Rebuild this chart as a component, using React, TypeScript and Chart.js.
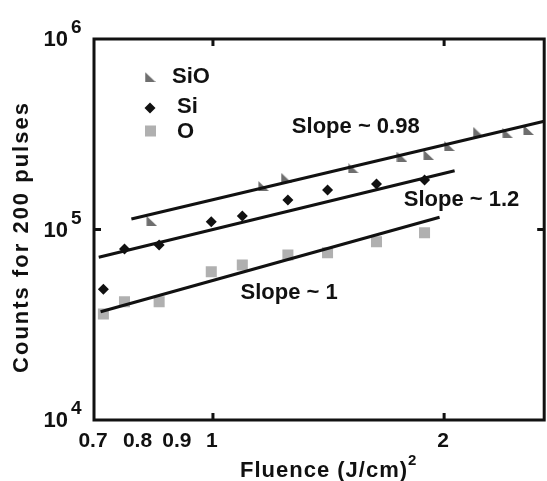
import React, { useEffect, useRef } from "react";
import { Chart, registerables } from "chart.js";

Chart.register(...registerables);

// ---- data ----
const sioX = [0.832, 1.163, 1.245, 1.523, 1.762, 1.909, 2.031, 2.214, 2.42, 2.575];
const sioY = [110800, 169100, 187000, 209600, 241000, 246000, 274400, 326100, 319900, 332900];

const siX = [0.72, 0.767, 0.851, 0.995, 1.092, 1.252, 1.41, 1.633, 1.886];
const siY = [48500, 79000, 82900, 109900, 117700, 142800, 161200, 173300, 181900];

const oX = [0.72, 0.767, 0.851, 0.995, 1.092, 1.252, 1.41, 1.633, 1.886];
const oY = [36000, 41800, 41800, 60000, 65100, 73500, 75600, 86300, 96200];

const fitSiOX = [0.783, 2.7];
const fitSiOY = [113500, 370000];
const fitSiX = [0.71, 2.064];
const fitSiY = [71450, 203600];
const fitOX = [0.714, 1.973];
const fitOY = [37000, 115900];

const xTickValues = [0.7, 0.8, 0.9, 1, 2];
const xTickLabels = ["0.7", "0.8", "0.9", "1", "2"];
const xTickMarks = [1, 2];
const yTickValues = [1e4, 1e5, 1e6];
const yTickExponents = ["4", "5", "6"];
const yTickMarks = [1e5];

const seriesNames = ["SiO", "Si", "O"];
const slopeLabels = ["Slope ~ 0.98", "Slope ~ 1.2", "Slope ~ 1"];
const slopeLabelX = [1.267, 1.772, 1.086];
const slopeLabelY = [321000, 132800, 43200];

const xTitle = "Fluence (J/cm)";
const xTitleSup = "2";
const yTitle = "Counts for 200 pulses";

const FONT = '"Liberation Sans", Arial, Helvetica, sans-serif';
const SIO_COLOR = "#6e6e6e";
const SI_COLOR = "#111111";
const O_COLOR = "#b0b0b0";

function makeTriangle(): HTMLCanvasElement {
  const c = document.createElement("canvas");
  c.width = 11;
  c.height = 10;
  const g = c.getContext("2d")!;
  g.fillStyle = SIO_COLOR;
  g.beginPath();
  g.moveTo(0.5, 0);
  g.lineTo(0.5, 10);
  g.lineTo(11, 10);
  g.closePath();
  g.fill();
  return c;
}

const toPts = (xs: number[], ys: number[]) => xs.map((x, i) => ({ x, y: ys[i] }));

export default function App() {
  const ref = useRef<HTMLCanvasElement | null>(null);

  useEffect(() => {
    document.body.style.margin = "0";
    const canvas = ref.current!;
    const tri = makeTriangle();

    const overlay = {
      id: "overlay",
      afterDraw(chart: any) {
        const ctx: CanvasRenderingContext2D = chart.ctx;
        const xs = chart.scales.x;
        const ys = chart.scales.y;
        const a = chart.chartArea;
        ctx.save();
        // frame
        ctx.strokeStyle = "#111";
        ctx.lineWidth = 3;
        ctx.beginPath();
        ctx.rect(a.left, a.top, a.right - a.left, a.bottom - a.top);
        ctx.stroke();
        // tick marks (inward)
        ctx.lineWidth = 3;
        ctx.beginPath();
        xTickMarks.forEach((v) => {
          const px = xs.getPixelForValue(v);
          ctx.moveTo(px, a.bottom);
          ctx.lineTo(px, a.bottom - 7);
          ctx.moveTo(px, a.top);
          ctx.lineTo(px, a.top + 7);
        });
        yTickMarks.forEach((v) => {
          const py = ys.getPixelForValue(v);
          ctx.moveTo(a.left, py);
          ctx.lineTo(a.left + 7, py);
          ctx.moveTo(a.right, py);
          ctx.lineTo(a.right - 7, py);
        });
        ctx.stroke();

        ctx.fillStyle = "#111";
        // x tick labels
        ctx.font = `bold 21px ${FONT}`;
        ctx.textAlign = "center";
        ctx.textBaseline = "alphabetic";
        xTickValues.forEach((v, i) => {
          const px = xs.getPixelForValue(v);
          ctx.fillText(xTickLabels[i], px - 1, a.bottom + 27);
        });
        // y tick labels 10^n
        yTickValues.forEach((v, i) => {
          const py = ys.getPixelForValue(v);
          ctx.font = `bold 22px ${FONT}`;
          ctx.textAlign = "right";
          ctx.fillText("10", a.left - 26, py + 7);
          ctx.font = `bold 19px ${FONT}`;
          ctx.textAlign = "left";
          ctx.fillText(yTickExponents[i], a.left - 23, py - 6);
        });

        // x title
        ctx.font = `bold 22px ${FONT}`;
        ctx.textAlign = "left";
        (ctx as any).letterSpacing = "1px";
        ctx.fillText(xTitle, 240, 477);
        const w = ctx.measureText(xTitle).width;
        (ctx as any).letterSpacing = "0px";
        ctx.font = `bold 15px ${FONT}`;
        ctx.fillText(xTitleSup, 240 + w, 465);

        // y title
        ctx.save();
        ctx.translate(28, 237);
        ctx.rotate(-Math.PI / 2);
        ctx.font = `bold 22px ${FONT}`;
        ctx.textAlign = "center";
        (ctx as any).letterSpacing = "2px";
        ctx.fillText(yTitle, 0, 0);
        (ctx as any).letterSpacing = "0px";
        ctx.restore();

        // slope labels
        ctx.font = `bold 22px ${FONT}`;
        ctx.textAlign = "left";
        slopeLabels.forEach((t, i) => {
          ctx.fillText(t, xs.getPixelForValue(slopeLabelX[i]), ys.getPixelForValue(slopeLabelY[i]));
        });

        // legend
        const legY = [77, 108, 131];
        const legTextX = [172, 177, 177];
        const legTextY = [83, 113, 138];
        ctx.drawImage(tri, 150 - 5.5, legY[0] - 5);
        ctx.fillStyle = SI_COLOR;
        ctx.beginPath();
        ctx.moveTo(150, legY[1] - 5.5);
        ctx.lineTo(155.5, legY[1]);
        ctx.lineTo(150, legY[1] + 5.5);
        ctx.lineTo(144.5, legY[1]);
        ctx.closePath();
        ctx.fill();
        ctx.fillStyle = O_COLOR;
        ctx.fillRect(145, legY[2] - 5.5, 11, 11);
        ctx.fillStyle = "#111";
        ctx.font = `bold 22px ${FONT}`;
        seriesNames.forEach((n, i) => ctx.fillText(n, legTextX[i], legTextY[i]));
        ctx.restore();
      },
    };

    const lineDs = (xs: number[], ys: number[]) => ({
      type: "line" as const,
      data: toPts(xs, ys),
      borderColor: "#111",
      borderWidth: 3,
      pointRadius: 0,
      showLine: true,
      fill: false,
      order: 0,
    });

    const chart = new Chart(canvas, {
      type: "scatter",
      data: {
        datasets: [
          lineDs(fitSiOX, fitSiOY),
          lineDs(fitSiX, fitSiY),
          lineDs(fitOX, fitOY),
          {
            label: seriesNames[0],
            data: toPts(sioX, sioY),
            pointStyle: tri as any,
            pointRadius: 5,
            backgroundColor: SIO_COLOR,
            borderWidth: 0,
            order: 1,
          },
          {
            label: seriesNames[1],
            data: toPts(siX, siY),
            pointStyle: "rectRot",
            pointRadius: 5.5,
            backgroundColor: SI_COLOR,
            borderColor: SI_COLOR,
            borderWidth: 0,
            order: 1,
          },
          {
            label: seriesNames[2],
            data: toPts(oX, oY),
            pointStyle: "rect",
            pointRadius: 7.8,
            backgroundColor: O_COLOR,
            borderColor: O_COLOR,
            borderWidth: 0,
            order: 1,
          },
        ] as any,
      },
      options: {
        responsive: false,
        animation: false,
        devicePixelRatio: 1,
        layout: { padding: { left: 94, top: 39, right: 3, bottom: 61 } },
        plugins: { legend: { display: false }, tooltip: { enabled: false } },
        scales: {
          x: { type: "logarithmic", min: 0.7, max: 2.7, display: false },
          y: { type: "logarithmic", min: 1e4, max: 1e6, display: false },
        },
      },
      plugins: [overlay],
    });
    return () => chart.destroy();
  }, []);

  return (
    <div style={{ width: 547, height: 481, overflow: "hidden", position: "relative", background: "#fff" }}>
      <canvas ref={ref} width={552} height={481} style={{ display: "block" }} />
    </div>
  );
}
